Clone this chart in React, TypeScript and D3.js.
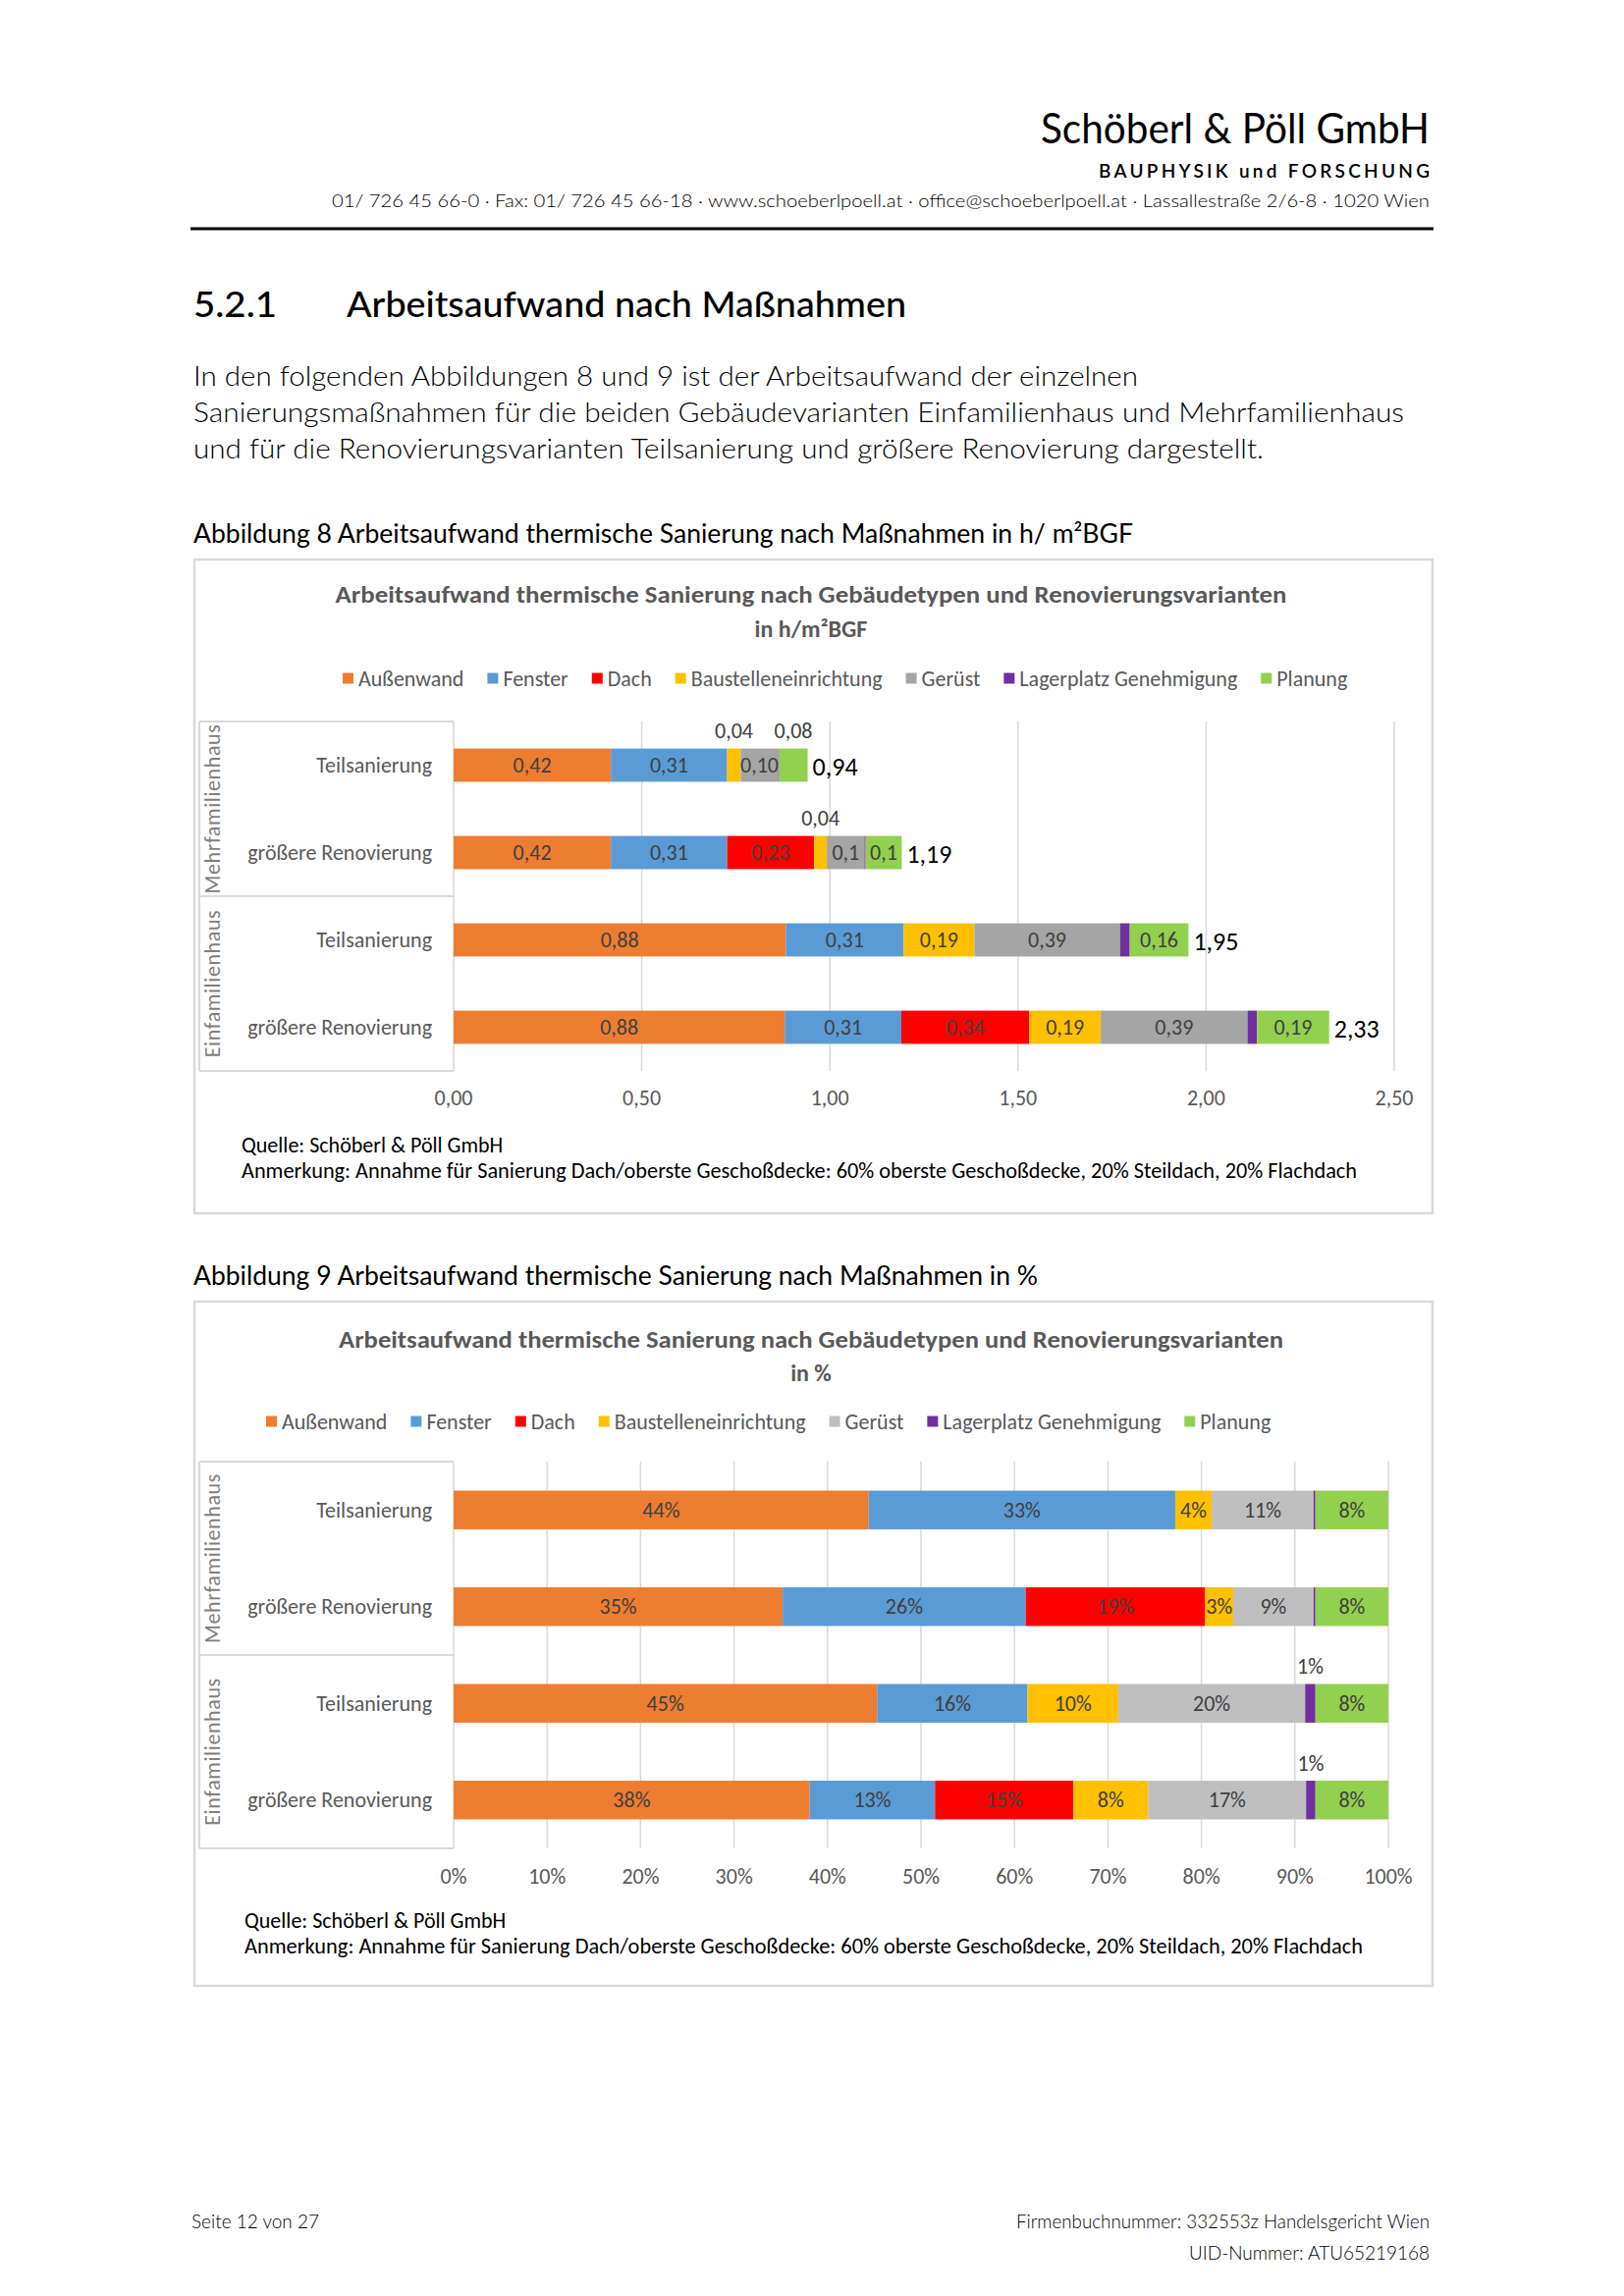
import * as d3 from 'd3';

const SERIES = ['Außenwand', 'Fenster', 'Dach', 'Baustelleneinrichtung', 'Gerüst', 'Lagerplatz Genehmigung', 'Planung'];
const COLORS_H = ['#ED7D31', '#5B9BD5', '#FF0000', '#FFC000', '#A5A5A5', '#7030A0', '#92D050'];
const COLORS_P = ['#ED7D31', '#5B9BD5', '#FF0000', '#FFC000', '#BFBFBF', '#7030A0', '#92D050'];

const GROUPS = ['Mehrfamilienhaus', 'Einfamilienhaus'];
const VARIANTS = ['Teilsanierung', 'größere Renovierung'];

// h/m²BGF — rows: MFH Teilsanierung, MFH größere Renovierung, EFH Teilsanierung, EFH größere Renovierung
const H_AUSSENWAND = [0.418, 0.418, 0.883, 0.88];
const H_FENSTER = [0.309, 0.309, 0.313, 0.31];
const H_DACH = [0, 0.231, 0, 0.34];
const H_BAUSTELLE = [0.036, 0.034, 0.188, 0.19];
const H_GERUEST = [0.1, 0.1, 0.387, 0.39];
const H_LAGER = [0.002, 0.003, 0.026, 0.025];
const H_PLANUNG = [0.076, 0.096, 0.156, 0.192];
const H_TOTALS = ['0,94', '1,19', '1,95', '2,33'];
const H_LABELS = [
  ['0,42', '0,31', '', '0,04', '0,10', '', '0,08'],
  ['0,42', '0,31', '0,23', '0,04', '0,1', '', '0,1'],
  ['0,88', '0,31', '', '0,19', '0,39', '', '0,16'],
  ['0,88', '0,31', '0,34', '0,19', '0,39', '', '0,19'],
];
const H_TICKS = [0, 0.5, 1, 1.5, 2, 2.5];

// Anteile in %
const P_AUSSENWAND = [44.4, 35.2, 45.3, 38.1];
const P_FENSTER = [32.8, 26.0, 16.1, 13.4];
const P_DACH = [0, 19.2, 0, 14.8];
const P_BAUSTELLE = [3.9, 3.0, 9.7, 8.0];
const P_GERUEST = [10.9, 8.6, 20.0, 16.9];
const P_LAGER = [0.2, 0.2, 1.1, 1.0];
const P_PLANUNG = [7.8, 7.8, 7.8, 7.8];
const P_TICKS = [0, 0.1, 0.2, 0.3, 0.4, 0.5, 0.6, 0.7, 0.8, 0.9, 1];

const CHART_FONT = "Carlito, Calibri, Lato, 'Liberation Sans', sans-serif";
const DOC_FONT = "Lato, 'Noto Sans', sans-serif";
const GRID = '#D9D9D9';
const FS = 22;

const deLocale = d3.formatLocale({ decimal: ',', thousands: '.', grouping: [3], currency: ['', ' €'] });
const fmt2 = deLocale.format('.2f');

const measureCtx = typeof document !== 'undefined' ? document.createElement('canvas').getContext('2d') : null;
function textWidth(t: string, font: string) {
  if (!measureCtx) return t.length * 10;
  measureCtx.font = font;
  return measureCtx.measureText(t).width;
}

interface ChartProps {
  boxTop: number;
  boxHeight: number;
  title: string;
  subtitle: string;
  titleY: [number, number];
  titleLen: number;
  legendX: number;
  legendY: number;
  plot: { left: number; right: number; top: number; bottom: number };
  pad: number;
  tickY: number;
  notesX: number;
  notesY: [number, number];
  notesLen: number;
  series: number[][];
  colors: string[];
  expand: boolean;
  ticks: number[];
  tickFmt: (v: number) => string;
  labelFor: (row: number, s: number, value: number, width: number) => { text: string; place: 'in' | 'above' | 'none' };
  totals?: string[];
}

function StackedChart(p: ChartProps) {
  const rowKeys = GROUPS.flatMap((g) => VARIANTS.map((v) => `${g}|${v}`));
  const table = rowKeys.map((k, r) => {
    const o: Record<string, number | string> = { key: k };
    SERIES.forEach((s, i) => (o[s] = p.series[i][r]));
    return o;
  });
  const stack = d3
    .stack<Record<string, number | string>, string>()
    .keys(SERIES)
    .value((d, k) => d[k] as number)
    .offset(p.expand ? d3.stackOffsetExpand : d3.stackOffsetNone);
  const layers = stack(table);

  const x = d3
    .scaleLinear()
    .domain([p.ticks[0], p.ticks[p.ticks.length - 1]])
    .range([p.plot.left, p.plot.right]);
  const y = d3
    .scaleBand()
    .domain(rowKeys)
    .range([p.plot.top, p.plot.bottom])
    .paddingInner(p.pad)
    .paddingOuter(p.pad / 2);
  const bw = y.bandwidth();
  const midY = (p.plot.top + p.plot.bottom) / 2;
  const axisLeft = 203;

  // legend layout
  const legendFont = `${FS}px ${CHART_FONT}`;
  let lx = p.legendX;
  const legendItems = SERIES.map((s, i) => {
    const item = { s, i, x: lx };
    lx += 16 + textWidth(s, legendFont) + 24;
    return item;
  });

  return (
    <g>
      <rect x={198} y={p.boxTop} width={1261} height={p.boxHeight} fill="#fff" stroke={GRID} strokeWidth={2.5} />
      <text x={826} y={p.titleY[0]} textAnchor="middle" dominantBaseline="central" fontFamily={CHART_FONT} fontWeight="bold" fontSize={24} fill="#595959" textLength={p.titleLen} lengthAdjust="spacingAndGlyphs">
        {p.title}
      </text>
      <text x={826} y={p.titleY[1]} textAnchor="middle" dominantBaseline="central" fontFamily={CHART_FONT} fontWeight="bold" fontSize={24} fill="#595959">
        {p.subtitle}
      </text>

      {legendItems.map((it) => (
        <g key={it.s}>
          <rect x={it.x} y={p.legendY - 5.5} width={11} height={11} fill={p.colors[it.i]} />
          <text x={it.x + 16} y={p.legendY} dominantBaseline="central" fontFamily={CHART_FONT} fontSize={FS} fill="#595959">
            {it.s}
          </text>
        </g>
      ))}

      {/* gridlines */}
      {p.ticks.map((t) => (
        <line key={t} x1={x(t)} x2={x(t)} y1={p.plot.top} y2={p.plot.bottom} stroke={GRID} strokeWidth={1.5} />
      ))}
      {p.ticks.map((t) => (
        <text key={`t${t}`} x={x(t)} y={p.tickY} textAnchor="middle" dominantBaseline="central" fontFamily={CHART_FONT} fontSize={FS} fill="#595959">
          {p.tickFmt(t)}
        </text>
      ))}

      {/* category axis with group brackets */}
      <line x1={axisLeft} x2={axisLeft} y1={p.plot.top} y2={p.plot.bottom} stroke={GRID} strokeWidth={2} />
      {[p.plot.top, midY, p.plot.bottom].map((yy) => (
        <line key={yy} x1={axisLeft} x2={p.plot.left} y1={yy} y2={yy} stroke={GRID} strokeWidth={2} />
      ))}
      {GROUPS.map((g, gi) => {
        const cy = gi === 0 ? (p.plot.top + midY) / 2 : (midY + p.plot.bottom) / 2;
        return (
          <text key={g} transform={`translate(216,${cy}) rotate(-90)`} textAnchor="middle" dominantBaseline="central" fontFamily={CHART_FONT} fontSize={FS} letterSpacing={0.6} fill="#7F7F7F">
            {g}
          </text>
        );
      })}
      {rowKeys.map((k) => (
        <text key={k} x={440} y={(y(k) ?? 0) + bw / 2} textAnchor="end" dominantBaseline="central" fontFamily={CHART_FONT} fontSize={FS} fill="#595959">
          {k.split('|')[1]}
        </text>
      ))}

      {/* bars */}
      {layers.map((layer, si) =>
        layer.map((d, r) => {
          const x0 = x(d[0]);
          const x1 = x(d[1]);
          if (x1 - x0 <= 0) return null;
          return <rect key={`${si}-${r}`} x={x0} y={y(rowKeys[r])} width={x1 - x0} height={bw} fill={p.colors[si]} />;
        })
      )}

      {/* data labels */}
      {layers.map((layer, si) =>
        layer.map((d, r) => {
          const x0 = x(d[0]);
          const x1 = x(d[1]);
          const lab = p.labelFor(r, si, p.series[si][r], x1 - x0);
          if (lab.place === 'none' || !lab.text) return null;
          const top = y(rowKeys[r]) ?? 0;
          const cy = lab.place === 'in' ? top + bw / 2 : top - 18;
          return (
            <text key={`l${si}-${r}`} x={(x0 + x1) / 2} y={cy} textAnchor="middle" dominantBaseline="central" fontFamily={CHART_FONT} fontSize={FS} fill="#404040">
              {lab.text}
            </text>
          );
        })
      )}

      {p.totals &&
        rowKeys.map((k, r) => {
          const end = x(layers[layers.length - 1][r][1]);
          return (
            <text key={`tot${k}`} x={end + 5} y={(y(k) ?? 0) + bw / 2 + 1} dominantBaseline="central" fontFamily={CHART_FONT} fontSize={26} fill="#000">
              {p.totals![r]}
            </text>
          );
        })}

      <text x={p.notesX} y={p.notesY[0]} dominantBaseline="central" fontFamily={CHART_FONT} fontSize={FS} fill="#000">
        Quelle: Schöberl &amp; Pöll GmbH
      </text>
      <text x={p.notesX} y={p.notesY[1]} dominantBaseline="central" fontFamily={CHART_FONT} fontSize={FS} fill="#000" textLength={p.notesLen} lengthAdjust="spacingAndGlyphs">
        Anmerkung: Annahme für Sanierung Dach/oberste Geschoßdecke: 60% oberste Geschoßdecke, 20% Steildach, 20% Flachdach
      </text>
    </g>
  );
}

export default function App() {
  const seriesH = [H_AUSSENWAND, H_FENSTER, H_DACH, H_BAUSTELLE, H_GERUEST, H_LAGER, H_PLANUNG];
  const seriesP = [P_AUSSENWAND, P_FENSTER, P_DACH, P_BAUSTELLE, P_GERUEST, P_LAGER, P_PLANUNG];

  const docText = (props: any, children: string) => (
    <text dominantBaseline="central" fontFamily={DOC_FONT} fontWeight={300} fill="#000" {...props}>
      {children}
    </text>
  );

  return (
    <div style={{ position: 'absolute', left: 0, top: 0, width: 1654, height: 2339, background: '#fff' }}>
      <svg width={1654} height={2339} style={{ display: 'block' }}>
        <rect width={1654} height={2339} fill="#fff" />

        {/* letterhead */}
        {docText({ x: 1456, y: 130, textAnchor: 'end', fontSize: 42, fontWeight: 400, textLength: 396, lengthAdjust: 'spacingAndGlyphs' }, 'Schöberl & Pöll GmbH')}
        {docText({ x: 1456, y: 173, textAnchor: 'end', fontSize: 19, fontWeight: 600, textLength: 337, lengthAdjust: 'spacing' }, 'BAUPHYSIK und FORSCHUNG')}
        {docText({ x: 1456, y: 204, textAnchor: 'end', fontSize: 18, textLength: 1118, lengthAdjust: 'spacingAndGlyphs' }, '01/ 726 45 66-0  ·  Fax: 01/ 726 45 66-18  ·  www.schoeberlpoell.at  ·  office@schoeberlpoell.at  ·  Lassallestraße 2/6-8  ·  1020 Wien')}
        <line x1={194} x2={1460} y1={233} y2={233} stroke="#000" strokeWidth={3} />

        {/* section heading and body */}
        {docText({ x: 197, y: 309, fontSize: 36, fontWeight: 500, textLength: 85, lengthAdjust: 'spacingAndGlyphs' }, '5.2.1')}
        {docText({ x: 353, y: 309, fontSize: 36, fontWeight: 500, textLength: 570, lengthAdjust: 'spacingAndGlyphs' }, 'Arbeitsaufwand nach Maßnahmen')}
        {docText({ x: 197, y: 382, fontSize: 28, textLength: 962, lengthAdjust: 'spacingAndGlyphs' }, 'In den folgenden Abbildungen 8 und 9 ist der Arbeitsaufwand der einzelnen')}
        {docText({ x: 197, y: 419, fontSize: 28, textLength: 1233, lengthAdjust: 'spacingAndGlyphs' }, 'Sanierungsmaßnahmen für die beiden Gebäudevarianten Einfamilienhaus und Mehrfamilienhaus')}
        {docText({ x: 197, y: 456, fontSize: 28, textLength: 1090, lengthAdjust: 'spacingAndGlyphs' }, 'und für die Renovierungsvarianten Teilsanierung und größere Renovierung dargestellt.')}

        {docText({ x: 197, y: 543, fontSize: 26, fontWeight: 400, textLength: 957, lengthAdjust: 'spacingAndGlyphs' }, 'Abbildung 8 Arbeitsaufwand thermische Sanierung nach Maßnahmen in h/ m²BGF')}

        <StackedChart
          boxTop={570}
          boxHeight={666}
          title="Arbeitsaufwand  thermische Sanierung nach Gebäudetypen und Renovierungsvarianten"
          subtitle="in h/m²BGF"
          titleY={[605, 640]}
          titleLen={969}
          legendX={349}
          legendY={691}
          plot={{ left: 462, right: 1420, top: 735, bottom: 1091 }}
          pad={0.62}
          tickY={1118}
          notesX={246}
          notesY={[1166, 1192]}
          notesLen={1136}
          series={seriesH}
          colors={COLORS_H}
          expand={false}
          ticks={H_TICKS}
          tickFmt={(v) => fmt2(v)}
          labelFor={(r, s, v, w) => {
            const text = H_LABELS[r][s];
            if (!text || s === 5) return { text, place: 'none' };
            return { text, place: w < 34 ? 'above' : 'in' };
          }}
          totals={H_TOTALS}
        />

        {docText({ x: 197, y: 1299, fontSize: 26, fontWeight: 400, textLength: 860, lengthAdjust: 'spacingAndGlyphs' }, 'Abbildung 9 Arbeitsaufwand thermische Sanierung nach Maßnahmen in %')}

        <StackedChart
          boxTop={1326}
          boxHeight={697}
          title="Arbeitsaufwand thermische Sanierung nach Gebäudetypen und Renovierungsvarianten"
          subtitle="in %"
          titleY={[1364, 1398]}
          titleLen={962}
          legendX={271}
          legendY={1448}
          plot={{ left: 462, right: 1414, top: 1489, bottom: 1883 }}
          pad={0.6}
          tickY={1911}
          notesX={249}
          notesY={[1956, 1982]}
          notesLen={1139}
          series={seriesP}
          colors={COLORS_P}
          expand={true}
          ticks={P_TICKS}
          tickFmt={(v) => `${Math.round(v * 100)}%`}
          labelFor={(_r, _s, v, w) => {
            const n = Math.round(v);
            if (n === 0) return { text: '', place: 'none' };
            return { text: `${n}%`, place: w < 20 ? 'above' : 'in' };
          }}
        />

        {/* footer */}
        {docText({ x: 195, y: 2262, fontSize: 19, textLength: 130, lengthAdjust: 'spacingAndGlyphs' }, 'Seite 12 von 27')}
        {docText({ x: 1456, y: 2262, textAnchor: 'end', fontSize: 19, textLength: 421, lengthAdjust: 'spacingAndGlyphs' }, 'Firmenbuchnummer: 332553z Handelsgericht Wien')}
        {docText({ x: 1456, y: 2294, textAnchor: 'end', fontSize: 19, textLength: 245, lengthAdjust: 'spacingAndGlyphs' }, 'UID-Nummer: ATU65219168')}
      </svg>
    </div>
  );
}
